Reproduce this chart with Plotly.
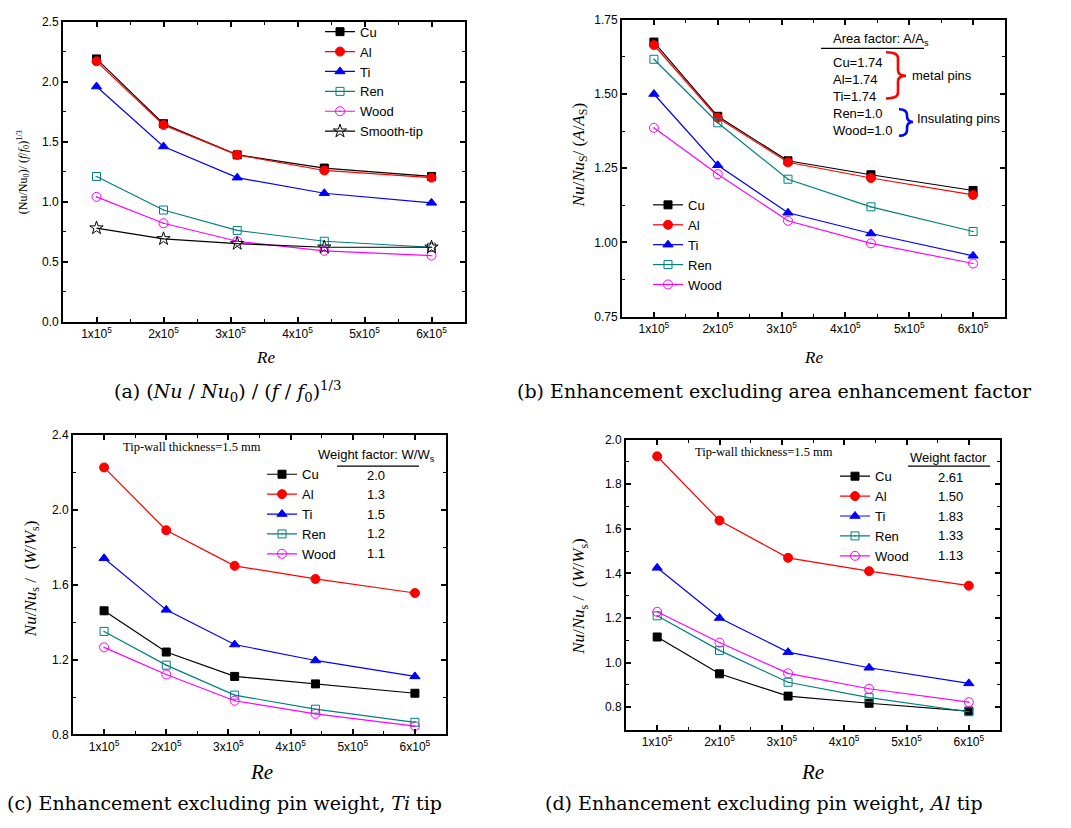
import plotly.graph_objects as go

# ---------------- data ----------------
re_vals = [1.0e5, 2.0e5, 3.1e5, 4.4e5, 6.0e5]
x_tick_vals = [1e5, 2e5, 3e5, 4e5, 5e5, 6e5]
x_tick_text = ["1x10<sup>5</sup>", "2x10<sup>5</sup>", "3x10<sup>5</sup>",
               "4x10<sup>5</sup>", "5x10<sup>5</sup>", "6x10<sup>5</sup>"]

materials = ["Cu", "Al", "Ti", "Ren", "Wood"]

# (a) (Nu/Nu0)/(f/f0)^(1/3)
a_cu = [2.19, 1.65, 1.39, 1.28, 1.21]
a_al = [2.17, 1.64, 1.39, 1.26, 1.20]
a_ti = [1.96, 1.46, 1.20, 1.07, 0.99]
a_ren = [1.21, 0.93, 0.76, 0.67, 0.62]
a_wood = [1.04, 0.82, 0.67, 0.59, 0.55]
a_smooth = [0.78, 0.69, 0.65, 0.62, 0.62]

# (b) excluding area factor
b_cu = [1.675, 1.425, 1.275, 1.228, 1.175]
b_al = [1.665, 1.420, 1.270, 1.217, 1.160]
b_ti = [1.500, 1.260, 1.100, 1.030, 0.955]
b_ren = [1.617, 1.403, 1.213, 1.120, 1.037]
b_wood = [1.386, 1.230, 1.073, 0.997, 0.929]

# (c) excluding pin weight, Ti tip
c_cu = [1.46, 1.24, 1.11, 1.07, 1.02]
c_al = [2.225, 1.89, 1.70, 1.63, 1.555]
c_ti = [1.74, 1.465, 1.28, 1.195, 1.11]
c_ren = [1.35, 1.17, 1.01, 0.935, 0.865]
c_wood = [1.265, 1.12, 0.98, 0.91, 0.845]
c_weight = ["2.0", "1.3", "1.5", "1.2", "1.1"]

# (d) excluding pin weight, Al tip
d_cu = [1.115, 0.95, 0.85, 0.818, 0.783]
d_al = [1.925, 1.637, 1.47, 1.41, 1.345]
d_ti = [1.425, 1.20, 1.047, 0.977, 0.907]
d_ren = [1.21, 1.055, 0.912, 0.843, 0.78]
d_wood = [1.228, 1.09, 0.952, 0.883, 0.823]
d_weight = ["2.61", "1.50", "1.83", "1.33", "1.13"]

area_lines = ["Cu=1.74", "Al=1.74", "Ti=1.74", "Ren=1.0", "Wood=1.0"]

# ---------------- styles ----------------
W, H = 1071, 828
SANS = "Liberation Sans, Arial, sans-serif"
SERIF = "Liberation Serif, Times New Roman, serif"
CAPF = "DejaVu Serif, serif"
LEG_FONT = 13
ROW = max(LEG_FONT * 1.3, 16) + 3  # plotly legend row height

style = {
    "Cu": dict(color="#000000", symbol="square", size=8),
    "Al": dict(color="#ff0000", symbol="circle", size=9),
    "Ti": dict(color="#0000ff", symbol="triangle-up", size=9),
    "Ren": dict(color="#008080", symbol="square-open-dot", size=8),
    "Wood": dict(color="#ff00ff", symbol="circle-open-dot", size=9),
    "Smooth-tip": dict(color="#000000", symbol="star-open", size=10),
}


def px(x):
    return x / W


def py(y):
    return 1 - y / H


fig = go.Figure()


def add_series(name, ys, xa, ya, legend):
    s = style[name]
    fig.add_trace(go.Scatter(
        x=re_vals, y=ys, name=name, mode="lines+markers",
        xaxis=xa, yaxis=ya, legend=legend,
        line=dict(color=s["color"], width=1.2),
        marker=dict(symbol=s["symbol"], size=s["size"], color=s["color"],
                    line=dict(color=s["color"], width=1)),
    ))


panels = [
    ("x", "y", "legend", [a_cu, a_al, a_ti, a_ren, a_wood, a_smooth],
     materials + ["Smooth-tip"]),
    ("x2", "y2", "legend2", [b_cu, b_al, b_ti, b_ren, b_wood], materials),
    ("x3", "y3", "legend3", [c_cu, c_al, c_ti, c_ren, c_wood], materials),
    ("x4", "y4", "legend4", [d_cu, d_al, d_ti, d_ren, d_wood], materials),
]
for xa, ya, lg, series, names in panels:
    for nm, ys in zip(names, series):
        add_series(nm, ys, xa, ya, lg)

axis_common = dict(showline=True, linecolor="black", linewidth=2, mirror="allticks",
                   ticks="inside", ticklen=5, tickwidth=1.5, tickcolor="black",
                   showgrid=False, zeroline=False,
                   tickfont=dict(family=SANS, size=12, color="black"))


def xaxis(dom, anchor):
    return dict(axis_common, domain=dom, anchor=anchor, range=[0.5e5, 6.5e5],
                tickmode="array", tickvals=x_tick_vals, ticktext=x_tick_text,
                minor=dict(tick0=0, dtick=0.5e5, ticks="inside", ticklen=3,
                           tickwidth=1.2, tickcolor="black"))


def yaxis(dom, anchor, rng, t0, dt, fmt):
    return dict(axis_common, domain=dom, anchor=anchor, range=rng,
                tickmode="linear", tick0=t0, dtick=dt, tickformat=fmt,
                minor=dict(tick0=t0, dtick=dt / 2, ticks="inside", ticklen=3,
                           tickwidth=1.2, tickcolor="black"))


dom_a = ([px(63), px(465)], [py(320), py(15)])
dom_b = ([px(622), px(1005)], [py(315), py(13)])
dom_c = ([px(73), px(446)], [py(740), py(435)])
dom_d = ([px(626), px(1000)], [py(735), py(440)])

legend_common = dict(bgcolor="rgba(0,0,0,0)", font=dict(family=SANS, size=LEG_FONT, color="black"),
                     xanchor="left", yanchor="middle", itemwidth=30, tracegroupgap=0,
                     borderwidth=0)

LEG_C_MID = 516
LEG_D_MID = 518

fig.update_layout(
    width=W, height=H, margin=dict(l=0, r=0, t=0, b=0),
    paper_bgcolor="white", plot_bgcolor="white",
    xaxis=xaxis(dom_a[0], "y"),
    yaxis=yaxis(dom_a[1], "x", [0, 2.5], 0, 0.5, ".1f"),
    xaxis2=xaxis(dom_b[0], "y2"),
    yaxis2=yaxis(dom_b[1], "x2", [0.75, 1.75], 0.75, 0.25, ".2f"),
    xaxis3=xaxis(dom_c[0], "y3"),
    yaxis3=yaxis(dom_c[1], "x3", [0.8, 2.4], 0.8, 0.4, ".1f"),
    xaxis4=xaxis(dom_d[0], "y4"),
    yaxis4=yaxis(dom_d[1], "x4", [0.7, 2.0], 0.8, 0.2, ".1f"),
    legend=dict(legend_common, x=px(320), y=py(76)),
    legend2=dict(legend_common, x=px(648), y=py(242)),
    legend3=dict(legend_common, x=px(262), y=py(LEG_C_MID)),
    legend4=dict(legend_common, x=px(835), y=py(LEG_D_MID)),
    showlegend=True,
)

ann = []


def text(x, y, t, size=13, family=SANS, color="black", xanchor="center", angle=0):
    ann.append(dict(x=px(x), y=py(y), xref="paper", yref="paper", text=t,
                    showarrow=False, xanchor=xanchor, yanchor="middle",
                    textangle=angle, font=dict(family=family, size=size, color=color)))


# captions
text(112, 391, "(a) (<i>Nu</i> / <i>Nu</i><sub>0</sub>) / (<i>f</i> / <i>f</i><sub>0</sub>)<sup>1/3</sup>",
     size=19, family=CAPF, xanchor="left")
text(515, 391, "(b) Enhancement excluding area enhancement factor", size=19, family=CAPF, xanchor="left")
text(5, 810, "(c) Enhancement excluding pin weight, <i>Ti</i> tip", size=19, family=CAPF, xanchor="left")
text(543, 810, "(d) Enhancement excluding pin weight, <i>Al</i> tip", size=19, family=CAPF, xanchor="left")

# x titles
text(265, 357, "<i>Re</i>", size=17, family=SERIF)
text(813, 357, "<i>Re</i>", size=17, family=SERIF)
text(261, 778, "<i>Re</i>", size=21, family=SERIF)
text(812, 778, "<i>Re</i>", size=21, family=SERIF)

# y titles
text(23, 168, "(Nu/Nu<sub>0</sub>)/ (<i>f</i>/<i>f</i><sub>0</sub>)<sup>1/3</sup>", size=12, family=SERIF, angle=-90)
text(580, 151, "<i>Nu</i>/<i>Nu</i><sub>S</sub>/ (<i>A</i>/<i>A</i><sub>S</sub>)", size=17, family=SERIF, angle=-90)
text(32, 582, "<i>Nu</i>/<i>Nu</i><sub>s</sub> /  (<i>W</i>/<i>W</i><sub>s</sub>)", size=17, family=SERIF, angle=-90)
text(580, 600, "<i>Nu</i>/<i>Nu</i><sub>s</sub> /  (<i>W</i>/<i>W</i><sub>s</sub>)", size=17, family=SERIF, angle=-90)

# panel (b) area-factor note
text(831, 33, "Area factor: A/A<sub>s</sub>", size=13, xanchor="left")
for i, t in enumerate(area_lines):
    text(831, 56 + i * 17.3, t, size=13, xanchor="left")
text(910, 70, "metal pins", size=13, xanchor="left")
text(915, 113, "Insulating pins", size=13, xanchor="left")

# panel (c) notes
text(192, 448, "Tip-wall thickness=1.5 mm", size=12.5, family=SERIF)
text(376, 456, "Weight factor: W/W<sub>s</sub>", size=13)
for i, t in enumerate(c_weight):
    text(376, LEG_C_MID + (i - 2) * ROW, t, size=13)

# panel (d) notes
text(764, 453, "Tip-wall thickness=1.5 mm", size=12.5, family=SERIF)
text(948, 458, "Weight factor", size=13)
for i, t in enumerate(d_weight):
    text(950, LEG_D_MID + (i - 2) * ROW, t, size=13)

fig.update_layout(annotations=ann)

# underlines
for x0, x1, y in [(821, 924, 42), (337, 419, 467), (908, 990, 467)]:
    fig.add_shape(type="line", xref="paper", yref="paper",
                  x0=px(x0), x1=px(x1), y0=py(y), y1=py(y),
                  line=dict(color="black", width=1.3))


def brace(x0, xm, x1, y0, y1, ytip, color):
    d = 6
    pts = [("M", [(x0, y0)]),
           ("Q", [(xm, y0), (xm, y0 + d)]),
           ("L", [(xm, ytip - d)]),
           ("Q", [(xm, ytip), (x1, ytip)]),
           ("Q", [(xm, ytip), (xm, ytip + d)]),
           ("L", [(xm, y1 - d)]),
           ("Q", [(xm, y1), (x0, y1)])]
    path = " ".join(cmd + " " + " ".join(f"{px(a):.5f},{py(b):.5f}" for a, b in p)
                    for cmd, p in pts)
    fig.add_shape(type="path", xref="paper", yref="paper", path=path,
                  line=dict(color=color, width=2.6))


brace(886, 898, 906, 46, 93, 70, "#ff0000")
brace(899, 907, 913, 104, 131, 117, "#0000ff")

fig.write_html("out.html", config={"displayModeBar": False},
               post_script="document.body.style.margin='0';")
